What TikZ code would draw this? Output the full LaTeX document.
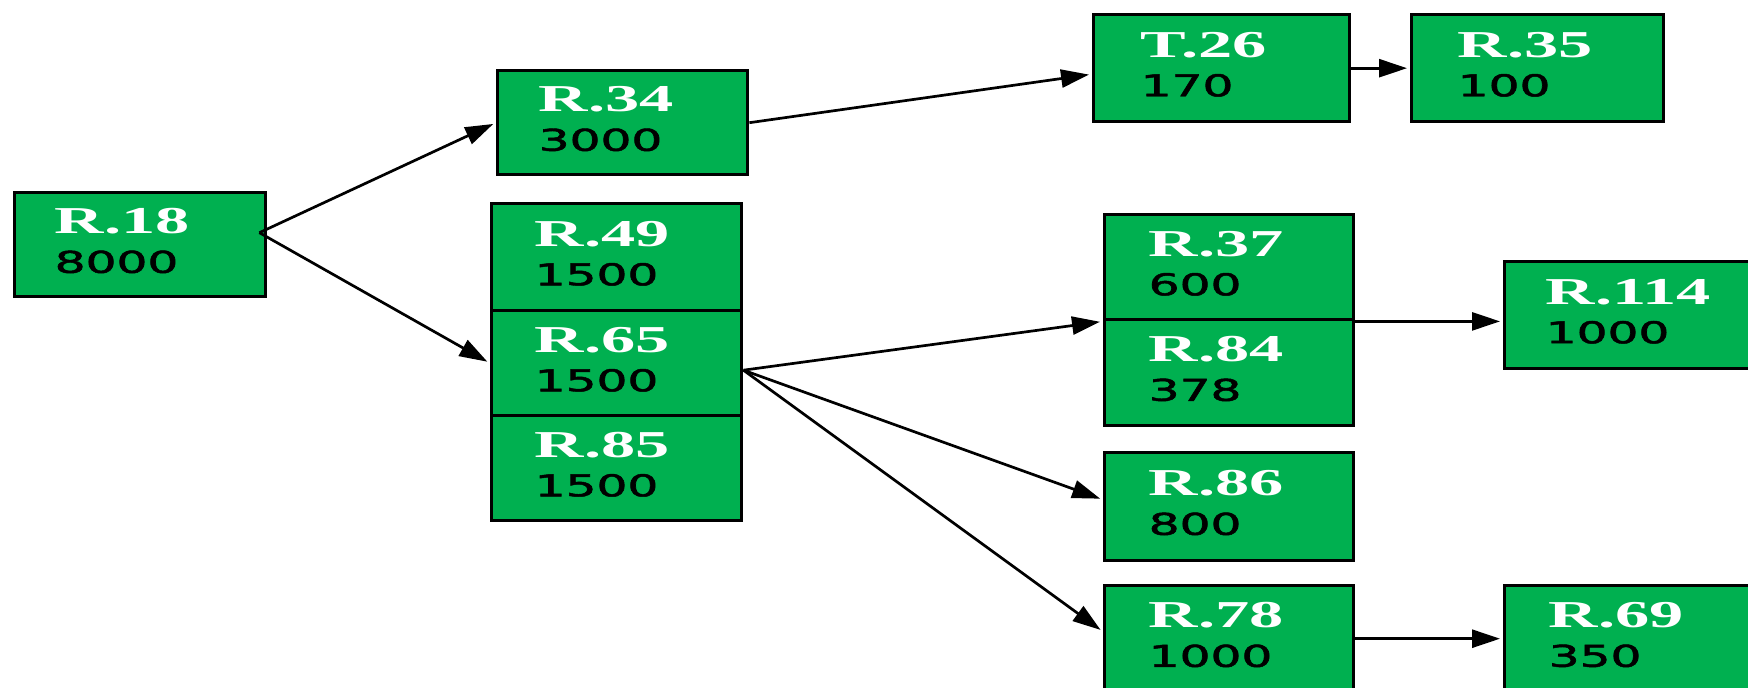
\documentclass[tikz,border=0pt]{standalone}
\usepackage{fontspec}
\usepackage{graphicx}
\usetikzlibrary{arrows.meta,calc}
\newfontfamily\labfont{Liberation Serif}
\newfontfamily\numfont[FakeBold=1.5]{DejaVu Sans}
\definecolor{boxgreen}{RGB}{0,176,80}
\newcommand\lbltext[1]{\scalebox{1.8}[1]{\labfont\bfseries\fontsize{19}{19}\selectfont\color{white}#1}}
\newcommand\numtext[1]{\scalebox{1.62}[1]{\numfont\fontsize{15}{15}\selectfont\color{black}#1}}
\newcommand\cell[3][20pt]{\hspace*{#1}\lbltext{#2}\\\hspace*{#1}\numtext{#3}\rule[-4pt]{0pt}{4pt}}
\tikzset{
  rec/.style 2 args={draw=black, line width=1.7pt, fill=boxgreen, anchor=north west,
    inner sep=0pt, align=left, minimum width=#1, minimum height=#2, text width=#1,
    font=\fontsize{15}{19.5}\selectfont},
  edge/.style={draw=black, line width=1.35pt, shorten >=1.5pt,
    -{Triangle[length=14pt,width=9pt]}}
}
\begin{document}
\begin{tikzpicture}[x=0.5pt,y=-0.5pt]
\useasboundingbox (0,0) rectangle (1748,688);
\clip (0,0) rectangle (1748,688);
\node[rec={125.5pt}{52pt}] (r18) at (13,191) {\cell[20pt]{R.18}{8000}};
\node[rec={125pt}{52pt}] (r34) at (496,69) {\cell[20.5pt]{R.34}{3000}};
\node[rec={125pt}{53.5pt}] (r49) at (490,202) {\cell[21.5pt]{R.49}{1500}};
\node[rec={125pt}{52.5pt}] (r65) at (490,309) {\cell[21.5pt]{R.65}{1500}};
\node[rec={125pt}{52.5pt}] (r85) at (490,414) {\cell[21.5pt]{R.85}{1500}};
\node[rec={128pt}{53.5pt}] (t26) at (1092,13) {\cell[23.5pt]{T.26}{170}};
\node[rec={126pt}{53.5pt}] (r35) at (1410,13) {\cell[23pt]{R.35}{100}};
\node[rec={124.5pt}{52.5pt}] (r37) at (1103,213) {\cell[22pt]{R.37}{600}};
\node[rec={124.5pt}{53pt}] (r84) at (1103,318) {\cell[22pt]{R.84}{378}};
\node[rec={125pt}{53.5pt}] (r114) at (1503,260) {\cell[20.5pt]{R.114}{1000}};
\node[rec={124.5pt}{54pt}] (r86) at (1103,451) {\cell[22pt]{R.86}{800}};
\node[rec={124.5pt}{53pt}] (r78) at (1103,584) {\cell[22pt]{R.78}{1000}};
\node[rec={125pt}{53pt}] (r69) at (1503,584) {\cell[22pt]{R.69}{350}};
\coordinate (o18) at ($(r18.east)+(-8,-12)$);
\coordinate (o65) at ($(r65.east)+(0,7)$);
\draw[edge] (o18) -- (r34.west);
\draw[edge] (o18) -- (r65.west);
\draw[edge] (r34.east) -- ($(t26.west)+(0,6)$);
\draw[edge] (t26.east) -- (r35.west);
\draw[edge] (o65) -- (r37.south west);
\draw[edge] (o65) -- ($(r86.west)+(0,-7)$);
\draw[edge] (o65) -- ($(r78.west)+(0,-7)$);
\draw[edge] (r37.south east) -- (r37.south east -| r114.west);
\draw[edge] (r78.east) -- (r69.west);
\end{tikzpicture}
\end{document}
